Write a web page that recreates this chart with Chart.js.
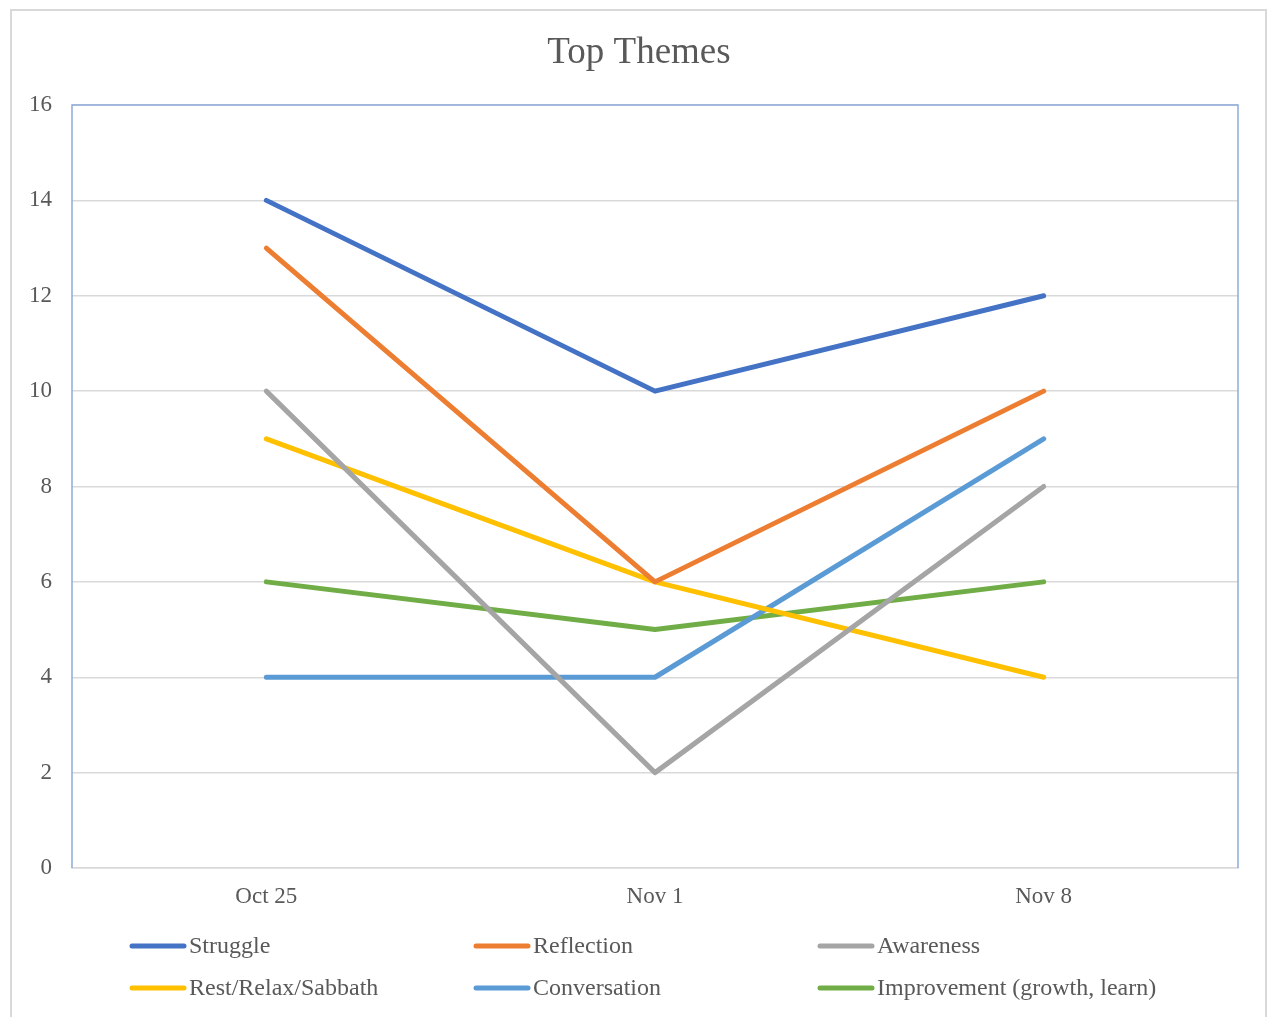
<!DOCTYPE html>
<html>
<head>
<meta charset="utf-8">
<script src="https://cdn.jsdelivr.net/npm/chart.js@4/dist/chart.umd.min.js"></script>
<style>
  html, body { margin: 0; padding: 0; background: #fff; overflow: hidden; }
  #wrap { position: relative; width: 1274px; height: 1017px; }
  #frame { position: absolute; left: 10px; top: 9px; width: 1257px; height: 1030px; border: 2px solid #d9d9d9; box-sizing: border-box; pointer-events: none; }
  canvas { position: absolute; left: 0; top: 0; }
</style>
</head>
<body>
<div id="wrap">
  <canvas id="c" width="1274" height="1017"></canvas>
  <div id="frame"></div>
</div>
<script>
const titleText = "Top Themes";
const categories = ["Oct 25", "Nov 1", "Nov 8"];
const yTicks = [0, 2, 4, 6, 8, 10, 12, 14, 16];

const seriesNames = ["Struggle", "Reflection", "Awareness", "Rest/Relax/Sabbath", "Conversation", "Improvement (growth, learn)"];
const struggle     = [14, 10, 12];
const reflection   = [13, 6, 10];
const awareness    = [10, 2, 8];
const rest         = [9, 6, 4];
const conversation = [4, 4, 9];
const improvement  = [6, 5, 6];
const seriesColors = ["#4472C4", "#ED7D31", "#A5A5A5", "#FFC000", "#5B9BD5", "#70AD47"];

const seriesValues = [struggle, reflection, awareness, rest, conversation, improvement];
const FONT = "'Liberation Serif', 'Times New Roman', serif";
const TEXT = "#595959";

const datasets = seriesNames.map((n, i) => ({
  label: n,
  data: seriesValues[i],
  borderColor: seriesColors[i],
  backgroundColor: seriesColors[i],
  borderWidth: 5,
  pointRadius: 0,
  pointHoverRadius: 0,
  tension: 0,
  fill: false,
  borderCapStyle: 'round',
  borderJoinStyle: 'round'
}));

const decor = {
  id: 'decor',
  beforeDatasetsDraw(chart) {
    const { ctx, chartArea: a } = chart;
    ctx.save();
    ctx.strokeStyle = '#8FAADC';
    ctx.lineWidth = 1.5;
    ctx.beginPath();
    ctx.moveTo(a.left, a.bottom);
    ctx.lineTo(a.left, a.top);
    ctx.lineTo(a.right, a.top);
    ctx.lineTo(a.right, a.bottom);
    ctx.stroke();
    ctx.restore();
  },
  afterDraw(chart) {
    const { ctx } = chart;
    ctx.save();
    // title
    ctx.fillStyle = TEXT;
    ctx.font = "37px " + FONT;
    ctx.textAlign = 'center';
    ctx.textBaseline = 'middle';
    ctx.fillText(titleText, 639, 53);
    // legend
    ctx.font = "24px " + FONT;
    ctx.textAlign = 'left';
    chart.data.datasets.forEach((ds, i) => {
      const col = i % 3, row = Math.floor(i / 3);
      const x = 132 + col * 344;
      const y = 946 + row * 42;
      ctx.strokeStyle = ds.borderColor;
      ctx.lineWidth = 5;
      ctx.lineCap = 'round';
      ctx.beginPath();
      ctx.moveTo(x, y);
      ctx.lineTo(x + 52, y);
      ctx.stroke();
      ctx.fillStyle = TEXT;
      ctx.fillText(ds.label, x + 57, y + 1);
    });
    ctx.restore();
  }
};

new Chart(document.getElementById('c'), {
  type: 'line',
  data: { labels: categories, datasets },
  options: {
    responsive: false,
    animation: false,
    devicePixelRatio: 1,
    layout: { padding: { left: 0, top: 105, right: 36, bottom: 0 } },
    plugins: { legend: { display: false }, title: { display: false }, tooltip: { enabled: false } },
    scales: {
      x: {
        offset: true,
        grid: { display: false, drawTicks: false },
        border: { display: true, color: '#d9d9d9', width: 1.5 },
        ticks: { color: TEXT, font: { family: FONT, size: 23 }, padding: 15 },
        afterFit(s) { s.height = 149; }
      },
      y: {
        min: 0, max: 16,
        afterBuildTicks(s) { s.ticks = yTicks.map(v => ({ value: v })); },
        grid: { color: '#d9d9d9', lineWidth: 1.5, drawTicks: false },
        border: { display: false },
        ticks: { color: TEXT, font: { family: FONT, size: 23 }, padding: 20 },
        afterFit(s) { s.width = 72; }
      }
    }
  },
  plugins: [decor]
});
</script>
</body>
</html>
